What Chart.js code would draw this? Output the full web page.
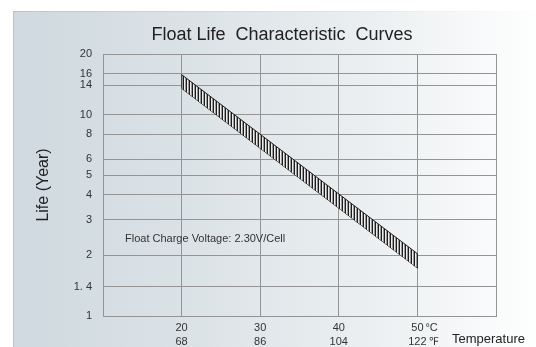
<!DOCTYPE html>
<html lang="en">
<head>
    <meta charset="UTF-8">
    <title>Float Life Characteristic Curves</title>
    <script src="https://cdn.jsdelivr.net/npm/chart.js"></script>
    <style>
        body { margin: 0; background: #fff; }
        .wrap { position: relative; width: 536px; height: 347px; overflow: hidden; }
        .panel {
            position: absolute; left: 13px; top: 11px; width: 530px; height: 336px;
            border-style: solid; border-width: 1px 0 0 1px;
            border-image: linear-gradient(to right, #a8cadf, #d6e6ef 60%, #ffffff) 1;
            background: linear-gradient(to right, #cfd9df 0%, #dce3e7 35%, #eaeef0 65%, #ffffff 100%);
        }
        #lifeChart { position: absolute; left: 0; top: 0; }
    </style>
</head>
<body>
    <div class="wrap">
        <div class="panel"></div>
        <canvas id="lifeChart" width="536" height="347"></canvas>
    </div>

    <script>
        // temperature axis (deg C) and matching deg F labels
        const tempTicks = [20, 30, 40, 50];
        const fahrenheitLabels = ["68", "86", "104", "122"];

        // life axis (years), log scale
        const lifeTicks = [1, 1.4, 2, 3, 4, 5, 6, 8, 10, 14, 16, 20];
        const lifeLabels = ["1", "1. 4", "2", "3", "4", "5", "6", "8", "10", "14", "16", "20"];

        // hatched band: upper and lower life limits at each end temperature
        const bandTemps = [20, 50];
        const bandUpper = [15.8, 2.04];
        const bandLower = [13.5, 1.73];

        const FONT = "'Liberation Sans', Arial, sans-serif";

        function makeHatch() {
            const c = document.createElement("canvas");
            c.width = 3; c.height = 1;
            const g = c.getContext("2d");
            g.fillStyle = "#1c1c1c"; g.fillRect(0, 0, 1, 1);
            g.fillStyle = "#eeeeee"; g.fillRect(1, 0, 1, 1);
            g.fillStyle = "#9a9a9a"; g.fillRect(2, 0, 1, 1);
            return g.createPattern(c, "repeat");
        }

        const toPoints = vals => bandTemps.map((t, i) => ({ x: t, y: vals[i] }));
        const edges = bandTemps.map((t, i) => ({
            data: [{ x: t, y: bandLower[i] }, { x: t, y: bandUpper[i] }],
            borderColor: "#1c1c1c", borderWidth: 1, pointRadius: 0, fill: false
        }));

        // extra texts around the plot
        const textPlugin = {
            id: "texts",
            afterDraw(chart) {
                const ctx = chart.ctx;
                const x = chart.scales.x;
                const area = chart.chartArea;
                ctx.save();
                ctx.textBaseline = "middle";

                ctx.fillStyle = "#222";
                ctx.font = "18px " + FONT;
                ctx.textAlign = "center";
                ctx.fillText("Float Life  Characteristic  Curves", 282, 35);

                ctx.textAlign = "left";
                ctx.font = "11px " + FONT;
                ctx.fillStyle = "#333";
                ctx.fillText("Float Charge Voltage: 2.30V/Cell", area.left + 22, 239);

                const p50 = x.getPixelForValue(50);
                ctx.fillText("°C", p50 + 8, 328);
                ctx.fillText("℉", p50 + 12, 342);

                ctx.font = "13px " + FONT;
                ctx.fillStyle = "#222";
                ctx.fillText("Temperature", 452, 339);
                ctx.restore();
            }
        };

        const ctx = document.getElementById("lifeChart").getContext("2d");
        new Chart(ctx, {
            type: "line",
            data: {
                datasets: [
                    {
                        data: toPoints(bandUpper),
                        borderColor: "#1c1c1c", borderWidth: 1, pointRadius: 0,
                        fill: "+1", backgroundColor: makeHatch()
                    },
                    {
                        data: toPoints(bandLower),
                        borderColor: "#1c1c1c", borderWidth: 1, pointRadius: 0, fill: false
                    },
                    ...edges
                ]
            },
            options: {
                responsive: false,
                animation: false,
                layout: { padding: { left: 34, top: 54, right: 40, bottom: 0 } },
                plugins: { legend: { display: false }, tooltip: { enabled: false } },
                scales: {
                    x: {
                        type: "linear",
                        min: 10, max: 60,
                        afterBuildTicks: s => { s.ticks = [10].concat(tempTicks, [60]).map(v => ({ value: v })); },
                        afterFit: s => { s.height = 31; },
                        grid: { color: "#949494", lineWidth: 1, drawTicks: false },
                        border: { color: "#949494" },
                        ticks: {
                            padding: 5,
                            color: "#333",
                            font: { family: FONT, size: 11, lineHeight: 1.3 },
                            maxRotation: 0,
                            callback: v => {
                                const i = tempTicks.indexOf(v);
                                return i < 0 ? "" : [String(v), fahrenheitLabels[i]];
                            }
                        }
                    },
                    y: {
                        type: "logarithmic",
                        min: 1, max: 20,
                        afterBuildTicks: s => { s.ticks = lifeTicks.map(v => ({ value: v })); },
                        afterFit: s => { s.width = 69; },
                        grid: { color: "#949494", lineWidth: 1, drawTicks: false },
                        border: { color: "#949494" },
                        title: {
                            display: true, text: "Life (Year)", color: "#222",
                            font: { family: FONT, size: 16 }, padding: 0
                        },
                        ticks: {
                            padding: 11,
                            color: "#333",
                            font: { family: FONT, size: 11 },
                            autoSkip: false,
                            callback: v => {
                                const i = lifeTicks.indexOf(v);
                                return i < 0 ? "" : lifeLabels[i];
                            }
                        }
                    }
                }
            },
            plugins: [textPlugin]
        });
    </script>
</body>
</html>
